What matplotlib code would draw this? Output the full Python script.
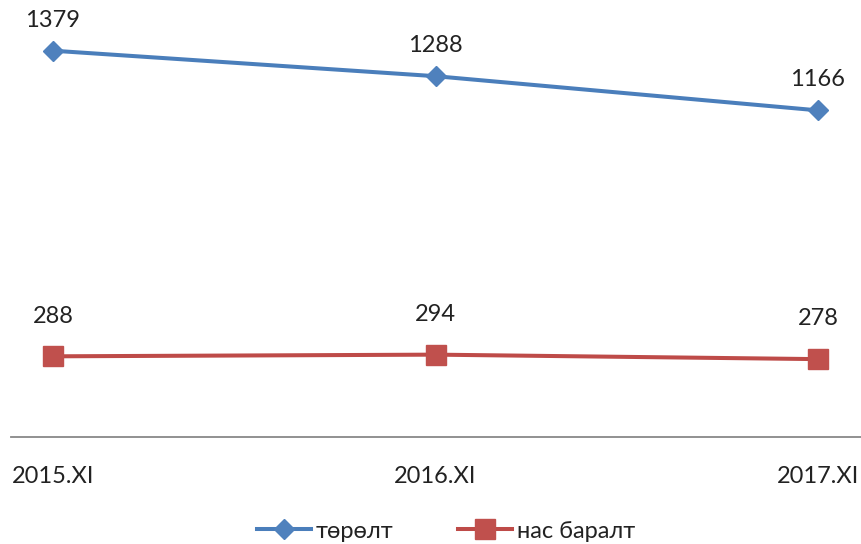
#!/usr/bin/env python3
from matplotlib import pyplot as plt

categories = ['2015.XI', '2016.XI', '2017.XI']
births = [1379, 1288, 1166]
deaths = [288, 294, 278]
birth_name = 'төрөлт'
death_name = 'нас баралт'


def main():
    plt.rcParams['font.family'] = ['Lato', 'DejaVu Sans']
    fig = plt.figure(figsize=(8.62, 5.44), dpi=100)
    ax = fig.add_axes([11/862, 107/544, 851/862, 437/544])
    x = list(range(len(categories)))

    ax.plot(x, births, color='#4A7EBB', linewidth=2.9, marker='D', markersize=10.5,
            markerfacecolor='#4F81BD', markeredgecolor='#4F81BD', label=birth_name)
    ax.plot(x, deaths, color='#BE4B48', linewidth=2.9, marker='s', markersize=14,
            markerfacecolor='#C0504D', markeredgecolor='#C0504D', label=death_name)

    for xi, v in zip(x, births):
        ax.annotate(str(v), (xi, v), xytext=(0, 22), textcoords='offset points',
                    ha='center', va='center', fontsize=17, color='#222222')
    for xi, v in zip(x, deaths):
        ax.annotate(str(v), (xi, v), xytext=(0, 29), textcoords='offset points',
                    ha='center', va='center', fontsize=17, color='#222222')

    ax.set_xlim(-0.1098, 2.115)
    ax.set_ylim(0, 1560)
    ax.set_xticks(x)
    ax.set_xticklabels(categories, fontsize=17, color='#222222')
    ax.tick_params(axis='x', length=0, pad=21)
    ax.set_yticks([])
    for s in ['top', 'right', 'left']:
        ax.spines[s].set_visible(False)
    ax.spines['bottom'].set_color('#888888')
    ax.spines['bottom'].set_linewidth(1.3)

    fig.legend(loc='center', bbox_to_anchor=(446/862, 1 - 531/544), ncol=2,
               frameon=False, fontsize=17, handlelength=2.3, handletextpad=0.2,
               columnspacing=2.7, labelcolor='#222222', borderpad=0.1)

    fig.savefig('out.png', dpi=100)


if __name__ == '__main__':
    main()
